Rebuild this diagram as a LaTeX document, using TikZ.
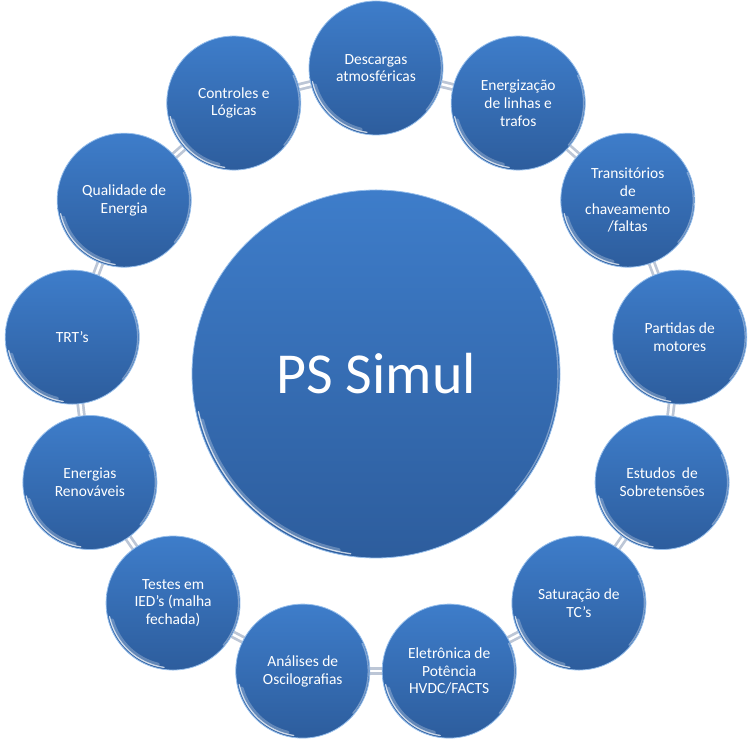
\documentclass[tikz,border=0pt]{standalone}
\usepackage{fontspec}
\setmainfont{Carlito}
\usetikzlibrary{backgrounds}
\definecolor{btop}{RGB}{62,125,202}
\definecolor{bbot}{RGB}{45,93,157}
\definecolor{rim}{RGB}{150,190,235}
\definecolor{connc}{RGB}{188,198,214}
\tikzset{
  bubble/.style={circle, minimum size=134pt, inner sep=0pt, top color=btop, bottom color=bbot,
    draw=rim, line width=0.8pt, text=white, align=center,
    font=\fontsize{15.5}{17.8}\selectfont},
  hub/.style={bubble, minimum size=368pt, font=\fontsize{58}{62}\selectfont},
  conn/.style={line width=8pt, draw=connc},
  conncore/.style={line width=2.5pt, draw=white},
  glowA/.style={draw=white, opacity=0.25, line width=4pt, line cap=round},
  glint/.style={draw=white, opacity=0.7, line width=1.3pt, line cap=round},
  softglint/.style={draw=white, opacity=0.35, line width=1.4pt, line cap=round}
}
\begin{document}
\begin{tikzpicture}[x=1pt,y=1pt]
\useasboundingbox (0,0) rectangle (753,749);
\coordinate (O) at (376,375);
\node[hub] (hub) at (O) {PS Simul};
\draw[glowA] ([shift={(195:180)}]hub.center) arc[start angle=195, end angle=258, radius=180];
\draw[glint] ([shift={(192:181.5)}]hub.center) arc[start angle=192, end angle=262, radius=181.5];
\draw[softglint] ([shift={(-40:182)}]hub.center) arc[start angle=-40, end angle=25, radius=182];
\foreach \i/\t in {
  0/{Descargas\\atmosféricas},
  1/{Energização\\de linhas e\\trafos},
  2/{Transitórios\\de\\chaveamento\\/faltas},
  3/{Partidas de\\motores},
  4/{Estudos\hspace{3pt} de\\Sobretensões},
  5/{Saturação de\\TC’s},
  6/{Eletrônica de\\Potência\\HVDC/FACTS},
  7/{Análises de\\Oscilografias},
  8/{Testes em\\IED’s (malha\\fechada)},
  9/{Energias\\Renováveis},
  10/{TRT’s},
  11/{Qualidade de\\Energia},
  12/{Controles e\\Lógicas}} {
  \node[bubble] (b\i) at ([shift={(90-\i*27.6923:306)}]O) {\t};
  \draw[glowA] ([shift={(196:63.5)}]b\i.center) arc[start angle=196, end angle=256, radius=63.5];
  \draw[glint] ([shift={(192:65)}]b\i.center) arc[start angle=192, end angle=262, radius=65];
  \draw[softglint] ([shift={(-40:65.5)}]b\i.center) arc[start angle=-40, end angle=25, radius=65.5];
}
\begin{pgfonlayer}{background}
\foreach \i [evaluate=\i as \j using {int(mod(\i+1,13))}] in {0,...,12} {
  \draw[conn] (b\i.center) -- (b\j.center);
  \draw[conncore] (b\i.center) -- (b\j.center);
}
\end{pgfonlayer}
\end{tikzpicture}
\end{document}
